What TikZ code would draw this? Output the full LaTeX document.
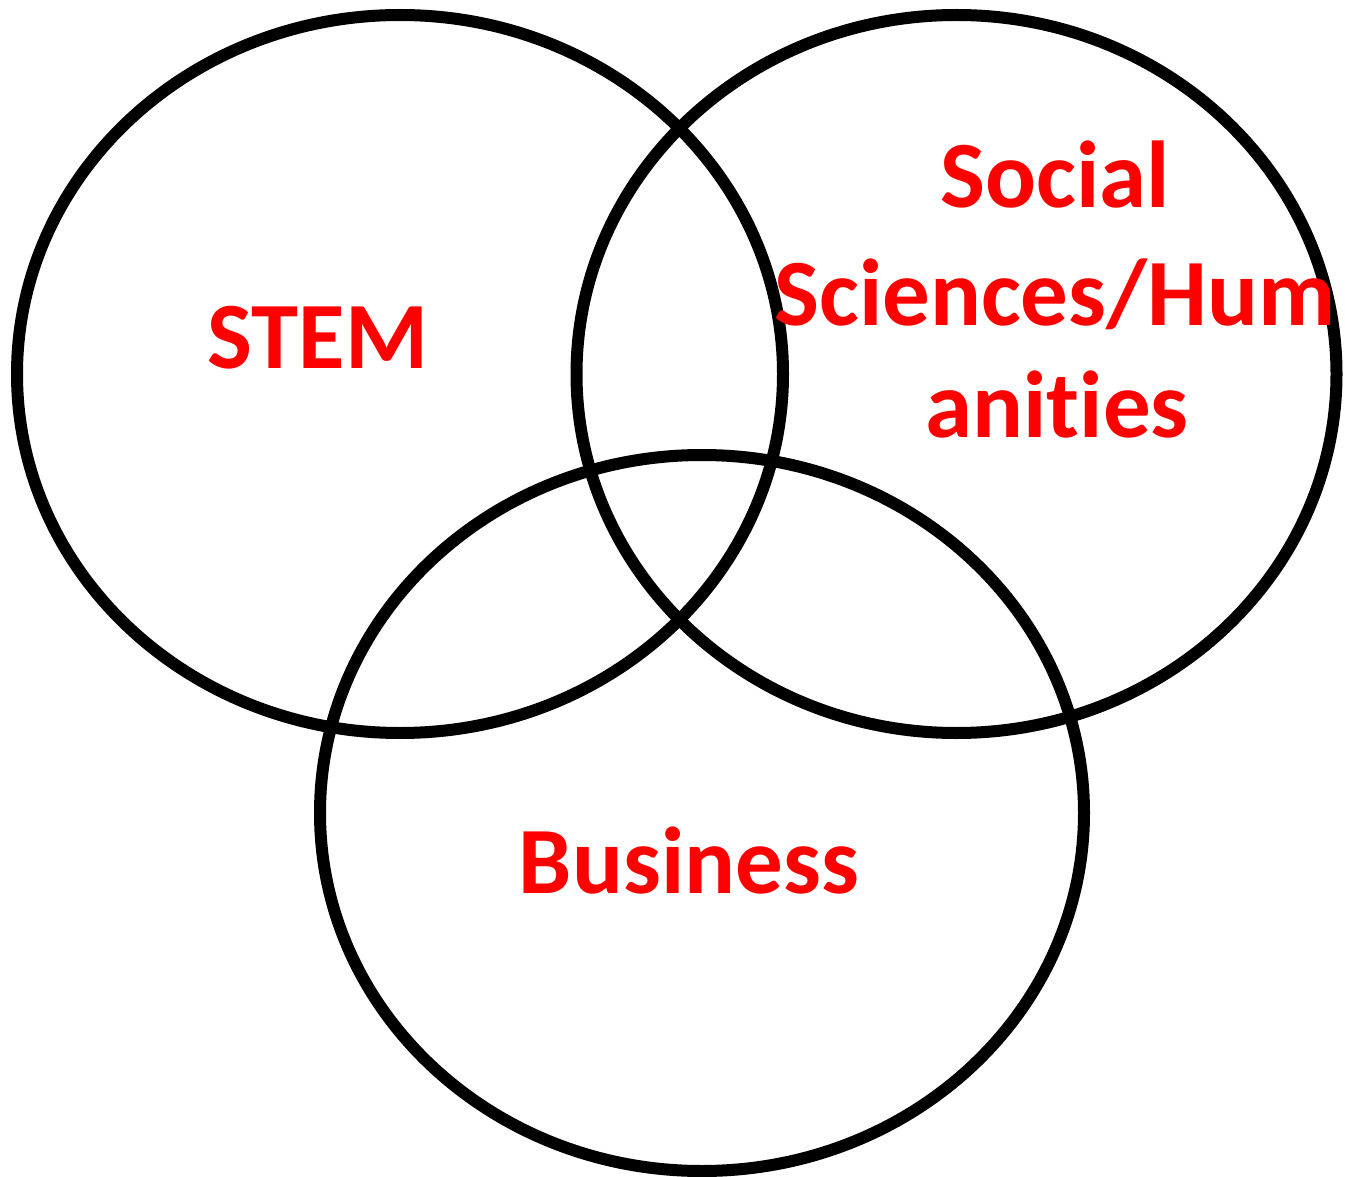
\documentclass[tikz,border=0pt]{standalone}
\usepackage{fontspec}
\setmainfont{Carlito}[RawFeature=-liga]
\begin{document}
\begin{tikzpicture}[x=1pt,y=-1pt,
  venn/.style={draw=black,line width=12pt},
  lbl/.style={text=red,font=\fontsize{95}{115}\selectfont\bfseries,anchor=base,inner sep=0pt}]
\useasboundingbox (0,0) rectangle (1345,1177);
\draw[venn] (400,374) ellipse [x radius=383, y radius=359];
\draw[venn] (956.5,374) ellipse [x radius=380, y radius=359];
\draw[venn] (702,813) ellipse [x radius=382, y radius=358];
\node[lbl] (stem) at (318,368) {STEM};
\node[lbl] (soc1) at (1055,208) {Social};
\node[lbl] (soc2) at (1055,325) {Sciences/Hum};
\node[lbl] (soc3) at (1057,437) {anities};
\node[lbl] (bus) at (689,893) {Business};
\end{tikzpicture}
\end{document}
